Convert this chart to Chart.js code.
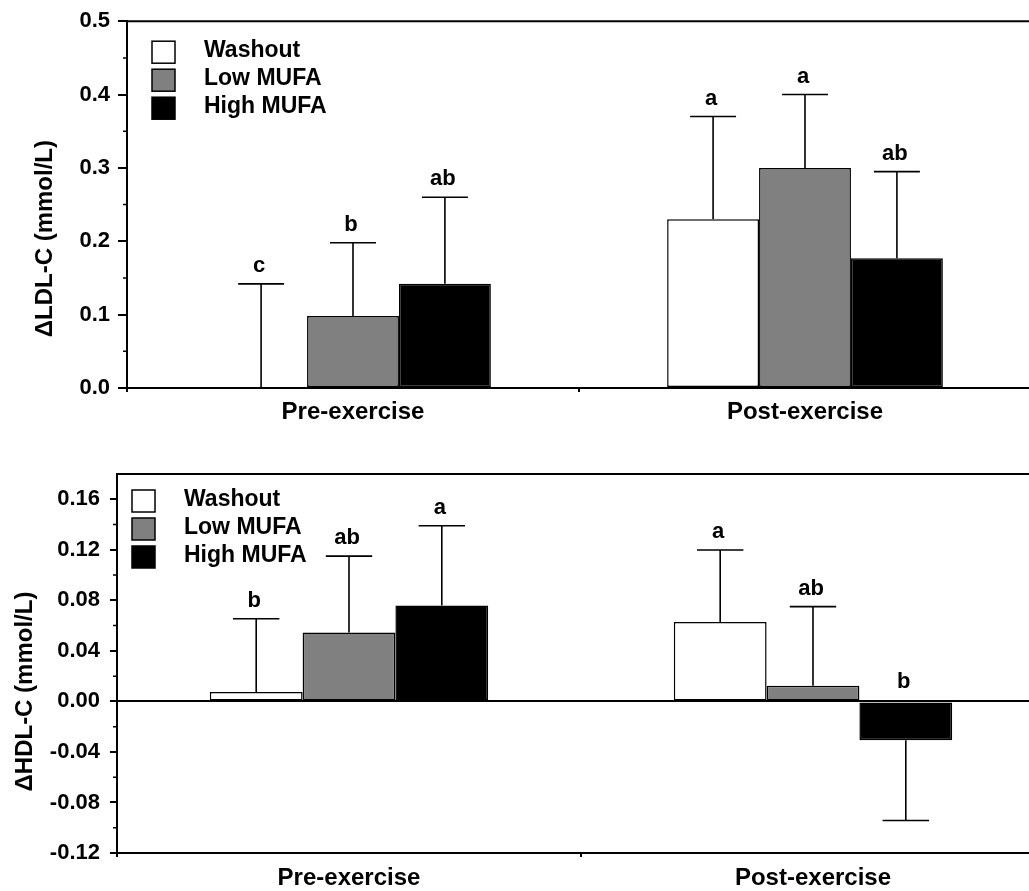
<!DOCTYPE html>
<html>
<head>
<meta charset="utf-8">
<script src="https://cdn.jsdelivr.net/npm/chart.js@4.4.1/dist/chart.umd.min.js"></script>
<style>
  html, body { margin: 0; padding: 0; background: #fff; overflow: hidden; }
  body { width: 1029px; height: 891px; position: relative; }
  .panel { position: absolute; left: 0; width: 1060px; }
  #top { top: 0; height: 430px; }
  #bottom { top: 430px; height: 461px; }
</style>
</head>
<body>
<div class="panel" id="top"><canvas id="ldlChart"></canvas></div>
<div class="panel" id="bottom"><canvas id="hdlChart"></canvas></div>
<script>
const groups = ['Pre-exercise', 'Post-exercise'];
const seriesNames = ['Washout', 'Low MUFA', 'High MUFA'];
const seriesColors = ['#ffffff', '#808080', '#000000'];

// change in LDL-C (mmol/L), upper error bar length
const ldlWashout = [0.0, 0.23];
const ldlLow = [0.098, 0.30];
const ldlHigh = [0.142, 0.177];
const ldlWashoutErr = [0.142, 0.14];
const ldlLowErr = [0.10, 0.10];
const ldlHighErr = [0.118, 0.118];
const ldlWashoutLetters = ['c', 'a'];
const ldlLowLetters = ['b', 'a'];
const ldlHighLetters = ['ab', 'ab'];
const ldlTicks = [0.0, 0.1, 0.2, 0.3, 0.4, 0.5];

// change in HDL-C (mmol/L)
const hdlWashout = [0.0074, 0.0628];
const hdlLow = [0.0545, 0.0124];
const hdlHigh = [0.076, -0.0308];
const hdlWashoutErr = [0.058, 0.057];
const hdlLowErr = [0.0605, 0.0626];
const hdlHighErr = [0.063, 0.0635];
const hdlWashoutLetters = ['b', 'a'];
const hdlLowLetters = ['ab', 'ab'];
const hdlHighLetters = ['a', 'b'];
const hdlTicks = [-0.12, -0.08, -0.04, 0.00, 0.04, 0.08, 0.12, 0.16];

const FONT = '"Liberation Sans", Arial, Helvetica, sans-serif';

// error bars, letters, minor ticks, top frame, inside legend, y title
const decorPlugin = {
  id: 'decor',
  afterDatasetsDraw(chart, args, opts) {
    const ctx = chart.ctx;
    const area = chart.chartArea;
    const y = chart.scales.y;
    ctx.save();
    ctx.strokeStyle = '#000';
    ctx.fillStyle = '#000';

    chart.data.datasets.forEach((ds, di) => {
      const meta = chart.getDatasetMeta(di);
      meta.data.forEach((bar, i) => {
        const v = ds.data[i];
        const dir = v < 0 ? -1 : 1;
        const y0 = y.getPixelForValue(v);
        const y1 = y.getPixelForValue(v + dir * ds.errors[i]);
        const half = bar.width / 4;
        ctx.lineWidth = 1.6;
        ctx.beginPath();
        ctx.moveTo(bar.x, y0);
        ctx.lineTo(bar.x, y1);
        ctx.moveTo(bar.x - half, y1);
        ctx.lineTo(bar.x + half, y1);
        ctx.stroke();

        const ly = dir > 0 ? y1 - 12 : y.getPixelForValue(0) - 13;
        ctx.font = 'bold 22px ' + FONT;
        ctx.textAlign = 'center';
        ctx.textBaseline = 'alphabetic';
        ctx.fillText(ds.letters[i], bar.x - 2, ly);
      });
    });

    // minor ticks halfway between labelled ones
    ctx.lineWidth = 1.5;
    ctx.beginPath();
    for (let i = 0; i < opts.ticks.length - 1; i++) {
      const py = y.getPixelForValue((opts.ticks[i] + opts.ticks[i + 1]) / 2);
      ctx.moveTo(area.left - 4, py);
      ctx.lineTo(area.left, py);
    }
    ctx.stroke();

    // frame line along the top
    ctx.lineWidth = 2;
    ctx.beginPath();
    ctx.moveTo(area.left, area.top);
    ctx.lineTo(area.right, area.top);
    ctx.stroke();

    // legend inside the plot
    const bx = area.left + opts.legendDx;
    chart.data.datasets.forEach((ds, di) => {
      const by = area.top + opts.legendDy + di * 28;
      ctx.fillStyle = ds.backgroundColor;
      ctx.fillRect(bx, by, 23, 22);
      ctx.lineWidth = 1.5;
      ctx.strokeRect(bx, by, 23, 22);
      ctx.fillStyle = '#000';
      ctx.font = 'bold 23px ' + FONT;
      ctx.textAlign = 'left';
      ctx.textBaseline = 'alphabetic';
      ctx.fillText(ds.label, bx + 52, by + 16);
    });

    // rotated y axis title
    ctx.translate(opts.titleX, (area.top + area.bottom) / 2 + opts.titleDy);
    ctx.rotate(-Math.PI / 2);
    ctx.font = 'bold 24px ' + FONT;
    ctx.textAlign = 'center';
    ctx.textBaseline = 'alphabetic';
    ctx.fillText(opts.title, 0, 0);
    ctx.restore();
  }
};

function makeChart(canvasId, values, errors, letters, cfg) {
  const datasets = seriesNames.map((name, k) => ({
    label: name,
    data: values[k],
    errors: errors[k],
    letters: letters[k],
    backgroundColor: seriesColors[k],
    borderColor: '#000',
    borderWidth: 1.5,
    borderSkipped: false,
    barPercentage: 1.0,
    categoryPercentage: cfg.catPct
  }));

  return new Chart(document.getElementById(canvasId), {
    type: 'bar',
    data: { labels: groups, datasets: datasets },
    plugins: [decorPlugin],
    options: {
      responsive: true,
      maintainAspectRatio: false,
      animation: false,
      layout: { padding: { top: cfg.padTop, right: cfg.padRight, left: 0, bottom: 0 } },
      plugins: {
        legend: { display: false },
        tooltip: { enabled: false },
        decor: {
          ticks: cfg.ticks,
          title: cfg.title,
          titleX: cfg.titleX,
          titleDy: cfg.titleDy,
          legendDx: cfg.legendDx,
          legendDy: cfg.legendDy
        }
      },
      scales: {
        x: {
          offset: true,
          grid: { offset: true, drawOnChartArea: false, tickLength: 4, color: '#000', lineWidth: 2 },
          border: { display: true, color: '#000', width: 2 },
          ticks: {
            font: { family: FONT, size: 24, weight: 'bold' },
            color: '#000',
            padding: cfg.xPad,
            maxRotation: 0,
            autoSkip: false
          },
          afterFit: s => { s.height = cfg.xHeight; }
        },
        y: {
          min: cfg.min,
          max: cfg.max,
          afterBuildTicks: s => { s.ticks = cfg.ticks.map(v => ({ value: v })); },
          ticks: {
            font: { family: FONT, size: 22, weight: 'bold' },
            color: '#000',
            padding: cfg.yPad,
            callback: v => (Math.abs(v) < 1e-9 ? 0 : v).toFixed(cfg.digits)
          },
          grid: {
            drawOnChartArea: cfg.zeroLine,
            tickLength: cfg.tickLen,
            lineWidth: 2,
            tickColor: '#000',
            color: c => (c.tick && Math.abs(c.tick.value) < 1e-9) ? '#000' : 'rgba(0,0,0,0)'
          },
          border: { display: true, color: '#000', width: 2 },
          afterFit: s => { s.width = cfg.yWidth; }
        }
      }
    }
  });
}

makeChart('ldlChart',
  [ldlWashout, ldlLow, ldlHigh],
  [ldlWashoutErr, ldlLowErr, ldlHighErr],
  [ldlWashoutLetters, ldlLowLetters, ldlHighLetters],
  {
    min: 0, max: 0.5, ticks: ldlTicks, digits: 1,
    catPct: 0.61, padTop: 18, padRight: 29, yWidth: 127, xHeight: 42,
    xPad: 6, yPad: 8, tickLen: 9, zeroLine: false,
    title: 'ΔLDL-C (mmol/L)', titleX: 52, titleDy: 34,
    legendDx: 25, legendDy: 20
  });

makeChart('hdlChart',
  [hdlWashout, hdlLow, hdlHigh],
  [hdlWashoutErr, hdlLowErr, hdlHighErr],
  [hdlWashoutLetters, hdlLowLetters, hdlHighLetters],
  {
    min: -0.12, max: 0.18, ticks: hdlTicks, digits: 2,
    catPct: 0.6, padTop: 44, padRight: 15, yWidth: 117, xHeight: 38,
    xPad: 7, yPad: 10, tickLen: 7, zeroLine: true,
    title: 'ΔHDL-C (mmol/L)', titleX: 32, titleDy: 28,
    legendDx: 15, legendDy: 16
  });
</script>
</body>
</html>
